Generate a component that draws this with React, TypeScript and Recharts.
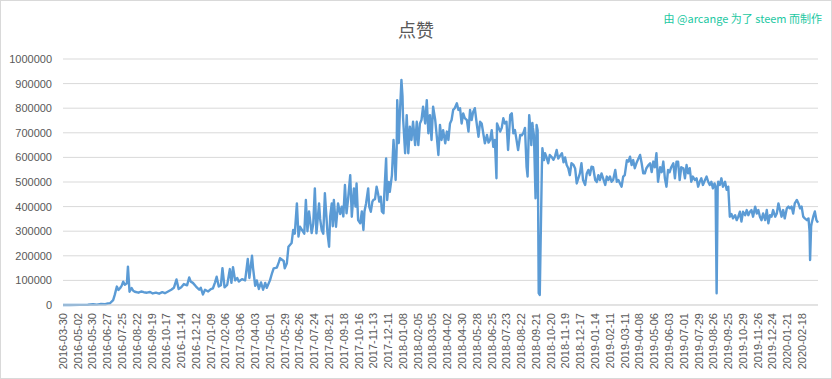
import { CartesianGrid, Line, LineChart, XAxis, YAxis } from "recharts";

// one label every 28 rows of the daily series
const tickLabels = [
  "2016-03-30", "2016-05-02", "2016-05-30", "2016-06-27", "2016-07-25", "2016-08-22",
  "2016-09-19", "2016-10-17", "2016-11-14", "2016-12-12", "2017-01-09", "2017-02-06",
  "2017-03-06", "2017-04-03", "2017-05-01", "2017-05-29", "2017-06-26", "2017-07-24",
  "2017-08-21", "2017-09-18", "2017-10-16", "2017-11-13", "2017-12-11", "2018-01-08",
  "2018-02-05", "2018-03-05", "2018-04-02", "2018-04-30", "2018-05-28", "2018-06-25",
  "2018-07-23", "2018-08-22", "2018-09-21", "2018-10-20", "2018-11-19", "2018-12-17",
  "2019-01-14", "2019-02-11", "2019-03-11", "2019-04-08", "2019-05-06", "2019-06-03",
  "2019-07-01", "2019-07-29", "2019-08-26", "2019-09-25", "2019-10-29", "2019-11-26",
  "2019-12-24", "2020-01-21", "2020-02-18",
];
const rowsPerTick = 28;
const lastRow = 1430;

const yTicks = [0, 100000, 200000, 300000, 400000, 500000, 600000, 700000, 800000, 900000, 1000000];

// [row, likes]
const launch: [number, number][] = [
  [0, 0], [13, 0], [32, 500], [47, 1000], [57, 3000], [64, 1500], [72, 4000], [80, 3000],
  [85, 6000], [89, 7000], [95, 20000], [98, 41000], [102, 75000], [105, 61000], [108, 68000],
  [111, 78000], [114, 95000], [117, 82000], [121, 88000], [123, 156000], [126, 54000],
  [130, 69000], [133, 58000], [136, 54000], [143, 50000], [148, 55000], [153, 52000],
  [159, 50000], [165, 53000], [170, 47000], [176, 50000], [182, 46000], [188, 52000],
  [193, 48000], [199, 55000], [205, 62000], [210, 70000], [215, 104000], [219, 65000],
  [224, 72000], [229, 85000], [235, 80000], [239, 112000], [242, 95000], [246, 90000],
  [252, 75000], [258, 62000], [261, 70000], [265, 43000], [269, 62000], [275, 55000],
  [280, 65000], [284, 68000], [288, 92000], [291, 115000], [295, 75000], [299, 80000],
  [302, 150000], [306, 72000], [311, 82000], [316, 146000], [319, 90000], [322, 154000],
  [326, 100000], [330, 110000], [333, 95000], [339, 105000], [345, 100000], [350, 187000],
  [353, 110000], [358, 200000], [360, 150000], [364, 78000], [367, 100000], [371, 65000],
  [375, 92000], [379, 62000], [383, 90000], [386, 70000],
];

const climb: [number, number][] = [
  [392, 100000], [396, 130000], [399, 149000], [405, 152000], [409, 175000], [411, 190000],
  [418, 179000], [420, 149000], [424, 170000], [427, 237000], [433, 252000], [436, 305000],
  [439, 290000], [443, 413000], [446, 278000], [449, 318000], [454, 300000], [457, 290000],
  [460, 427000], [463, 300000], [466, 380000], [471, 292000], [474, 330000], [477, 474000],
  [480, 291000], [485, 413000], [487, 350000], [490, 305000], [493, 290000], [496, 454000],
  [501, 291000], [504, 237000], [506, 359000], [509, 413000], [511, 320000], [513, 427000],
  [517, 318000], [521, 413000], [525, 370000], [528, 400000], [531, 360000], [534, 488000],
  [537, 373000], [540, 430000], [544, 528000], [547, 359000], [551, 474000], [554, 400000],
  [556, 494000], [559, 345000], [563, 332000], [566, 380000], [569, 305000], [571, 380000],
  [574, 413000], [578, 474000], [580, 400000], [583, 379000], [586, 420000], [588, 427000],
  [591, 430000], [594, 481000], [597, 450000], [599, 420000], [602, 440000], [604, 380000],
  [607, 373000], [609, 470000], [612, 596000], [614, 427000], [617, 500000], [619, 460000],
  [623, 528000], [626, 671000], [628, 600000], [630, 508000], [632, 640000], [633, 833000],
  [635, 720000], [636, 658000], [638, 780000], [639, 821000], [641, 915000], [643, 850000],
  [644, 765000],
];

const peak: [number, number][] = [
  [648, 617000], [651, 772000], [654, 617000], [657, 725000], [660, 671000], [663, 745000],
  [667, 650000], [670, 745000], [673, 650000], [676, 738000], [679, 752000], [682, 806000],
  [686, 738000], [689, 833000], [692, 698000], [695, 772000], [698, 671000], [701, 806000],
  [705, 752000], [708, 684000], [711, 610000], [714, 732000], [717, 671000], [720, 711000],
  [724, 657000], [727, 705000], [730, 671000], [733, 738000], [736, 752000], [739, 793000],
  [742, 800000], [746, 820000], [749, 793000], [752, 800000], [755, 738000], [758, 779000],
  [761, 760000], [765, 752000], [768, 705000], [771, 793000], [774, 752000], [777, 786000],
  [780, 800000], [784, 730000], [787, 684000], [790, 745000], [793, 738000], [796, 698000],
  [799, 657000], [803, 691000], [806, 660000], [809, 671000], [812, 711000], [815, 643000],
  [818, 671000], [821, 515000], [822, 738000], [828, 705000], [831, 720000], [834, 759000],
  [837, 738000], [840, 745000], [843, 630000], [847, 772000], [850, 779000], [853, 698000],
  [856, 711000], [859, 671000], [862, 630000], [866, 691000], [869, 690000], [872, 700000],
  [875, 720000], [878, 562000], [880, 522000], [883, 772000], [886, 700000], [887, 650000],
  [889, 740000], [890, 720000], [892, 690000], [895, 434000], [897, 732000], [899, 710000],
  [901, 48000], [903, 41000], [905, 300000], [907, 560000], [908, 637000],
];

const plateau: [number, number][] = [
  [911, 589000], [913, 617000], [916, 600000], [919, 576000], [922, 610000], [926, 600000],
  [929, 590000], [932, 605000], [935, 630000], [938, 595000], [941, 605000], [945, 617000],
  [948, 580000], [951, 600000], [954, 569000], [957, 556000], [960, 528000], [963, 576000],
  [967, 569000], [970, 555000], [973, 494000], [976, 515000], [979, 535000], [982, 576000],
  [985, 508000], [989, 488000], [992, 535000], [995, 549000], [998, 528000], [1001, 562000],
  [1004, 560000], [1008, 508000], [1011, 500000], [1014, 528000], [1017, 508000], [1020, 535000],
  [1023, 515000], [1027, 488000], [1030, 522000], [1033, 508000], [1036, 522000], [1039, 501000],
  [1042, 508000], [1046, 549000], [1049, 501000], [1052, 508000], [1055, 494000], [1058, 481000],
  [1061, 522000], [1064, 528000], [1068, 589000], [1071, 583000], [1074, 603000], [1077, 569000],
  [1080, 589000], [1083, 556000], [1086, 576000], [1090, 596000], [1093, 610000], [1096, 576000],
  [1099, 535000], [1102, 535000], [1105, 556000], [1109, 569000], [1112, 576000], [1115, 540000],
  [1118, 583000], [1121, 560000], [1124, 617000], [1127, 501000], [1131, 560000], [1134, 540000],
  [1137, 583000], [1140, 515000], [1143, 481000], [1146, 549000], [1149, 540000], [1152, 560000],
  [1156, 576000], [1159, 515000], [1162, 583000], [1165, 583000], [1168, 508000], [1171, 560000],
  [1175, 556000], [1178, 515000], [1181, 569000], [1184, 535000], [1187, 556000], [1190, 501000],
  [1193, 522000], [1197, 508000], [1200, 515000], [1203, 481000], [1206, 501000], [1209, 515000],
  [1212, 488000], [1216, 508000], [1219, 522000], [1222, 501000], [1225, 488000], [1228, 501000],
  [1231, 474000], [1234, 494000], [1236, 480000], [1238, 48000], [1240, 480000], [1241, 501000],
  [1244, 488000], [1247, 515000], [1250, 481000], [1254, 501000], [1257, 468000], [1260, 481000],
  [1261, 440000], [1263, 359000],
];

const tail: [number, number][] = [
  [1266, 370000], [1269, 352000], [1273, 365000], [1276, 345000], [1279, 359000], [1282, 379000],
  [1285, 339000], [1288, 379000], [1292, 365000], [1295, 386000], [1298, 365000], [1301, 379000],
  [1304, 386000], [1307, 359000], [1311, 400000], [1314, 372000], [1317, 386000], [1320, 359000],
  [1323, 345000], [1326, 372000], [1330, 345000], [1333, 386000], [1336, 332000], [1339, 365000],
  [1342, 359000], [1345, 386000], [1349, 359000], [1352, 372000], [1355, 413000], [1358, 386000],
  [1361, 359000], [1364, 386000], [1367, 352000], [1371, 393000], [1374, 400000], [1377, 393000],
  [1380, 400000], [1383, 372000], [1386, 413000], [1390, 427000], [1393, 413000], [1396, 393000],
  [1399, 400000], [1402, 359000], [1405, 352000], [1409, 345000], [1412, 352000], [1414, 300000],
  [1415, 183000], [1417, 320000], [1418, 332000], [1421, 359000], [1424, 380000], [1427, 345000],
  [1430, 335000],
];

const data = [...launch, ...climb, ...peak, ...plateau, ...tail].map(([row, likes]) => ({ row, likes }));
const xTicks = tickLabels.map((_, i) => i * rowsPerTick);

const DateTick = ({ x, y, payload }: any) => (
  <g transform={`translate(${x},${y})`}>
    <text
      transform="rotate(-90)"
      textAnchor="end"
      dy="0.35em"
      fontSize={11}
      fill="#595959"
      fontFamily="'Liberation Sans', Arial, sans-serif"
    >
      {tickLabels[Math.round(payload.value / rowsPerTick)]}
    </text>
  </g>
);

const App = () => {
  return (
    <div style={{ position: "absolute", left: 0, top: 0, width: 832, height: 379, background: "#fff" }}>
      <LineChart
        width={832}
        height={379}
        data={data}
        margin={{ top: 59, right: 14, bottom: 0, left: 0 }}
        style={{ position: "absolute", left: 0, top: 0 }}
      >
        <CartesianGrid vertical={false} stroke="#d9d9d9" />
        <XAxis
          type="number"
          dataKey="row"
          domain={[0, lastRow]}
          ticks={xTicks}
          interval={0}
          height={74}
          tickLine={false}
          axisLine={{ stroke: "#d9d9d9" }}
          tick={<DateTick />}
        />
        <YAxis
          domain={[0, 1000000]}
          ticks={yTicks}
          interval={0}
          width={63}
          tickMargin={5}
          tickLine={false}
          axisLine={false}
          tick={{ fontSize: 11, fill: "#595959", fontFamily: "'Liberation Sans', Arial, sans-serif" }}
        />
        <Line
          type="linear"
          dataKey="likes"
          stroke="#5b9bd5"
          strokeWidth={2.4}
          strokeLinejoin="round"
          dot={false}
          isAnimationActive={false}
        />
      </LineChart>
      <div
        style={{
          position: "absolute",
          left: 0,
          width: 832,
          top: 17,
          textAlign: "center",
          fontSize: 18,
          color: "#595959",
          fontFamily: "'Noto Sans CJK SC', sans-serif",
          lineHeight: "24px",
        }}
      >
        点赞
      </div>
      <div
        style={{
          position: "absolute",
          right: 10,
          top: 10,
          fontSize: 11,
          color: "#1cc8a2",
          fontFamily: "'Noto Sans CJK SC', sans-serif",
          lineHeight: "16px",
          whiteSpace: "nowrap",
        }}
      >
        由 @arcange 为了 steem 而制作
      </div>
      <div
        style={{
          position: "absolute",
          left: 0,
          top: 0,
          width: 832,
          height: 379,
          boxSizing: "border-box",
          border: "1px solid #d9d9d9",
          pointerEvents: "none",
        }}
      />
    </div>
  );
};

export default App;
